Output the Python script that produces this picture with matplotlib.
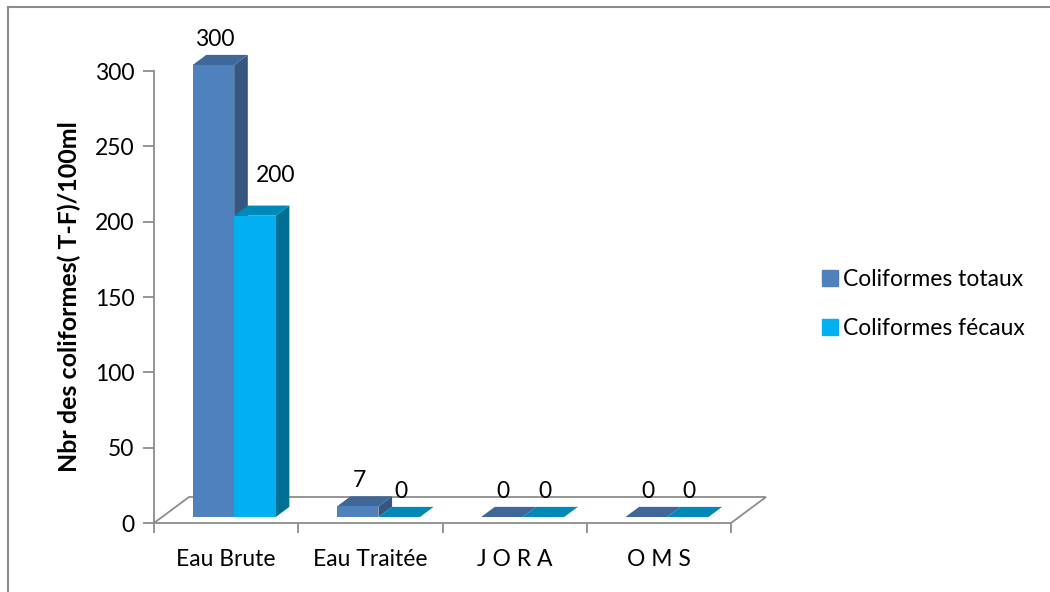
import numpy as np
import matplotlib.pyplot as plt
from matplotlib.patches import Polygon
from matplotlib.lines import Line2D

plt.rcParams['font.family'] = ['Lato', 'DejaVu Sans']

# data
categories = ['Eau Brute', 'Eau Traitée', 'J O R A', 'O M S']
totaux = [300, 7, 0, 0]
fecaux = [200, 0, 0, 0]
series_names = ['Coliformes totaux', 'Coliformes fécaux']
yticks = [0, 50, 100, 150, 200, 250, 300]

# colours: front, top, side
col_tot = ('#4F81BD', '#3F6797', '#36577F')
col_fec = ('#00B0F0', '#0088B8', '#006F94')

FS = 16.5

fig = plt.figure(figsize=(10.5, 5.92), dpi=100)
W, H = 1050, 592
ax = fig.add_axes([154 / W, (H - 523) / H, 577 / W, 452 / H])
ax.set_xlim(-0.5, len(categories) - 0.5)
ax.set_ylim(0, 300)

# pseudo-3D depth of the floor in data units
px_x = 577 / len(categories)      # pixels per category
px_y = 452 / 300                  # pixels per unit
DX = 35 / px_x
DY = 26 / px_y
f0, f1 = 0.23, 0.62               # depth slot taken by the bars
bw = 0.288

# floor
floor = Polygon([(-0.5, 0), (3.5, 0), (3.5 + DX, DY), (-0.5 + DX, DY)],
                closed=True, facecolor='white', edgecolor='#8C8C8C',
                lw=1.3, clip_on=False, zorder=1)
ax.add_patch(floor)


def draw_bar(x0, h, cols):
    ox, oy = f0 * DX, f0 * DY
    dx, dy = (f1 - f0) * DX, (f1 - f0) * DY
    xl, xr = x0 + ox, x0 + bw + ox
    yb, yt = oy, oy + h
    front, top, side = cols
    if h > 0:
        ax.add_patch(Polygon([(xr, yb), (xr + dx, yb + dy), (xr + dx, yt + dy), (xr, yt)],
                             facecolor=side, edgecolor='none', clip_on=False, zorder=2))
    ax.add_patch(Polygon([(xl, yt), (xr, yt), (xr + dx, yt + dy), (xl + dx, yt + dy)],
                         facecolor=top, edgecolor='none', clip_on=False, zorder=2))
    if h > 0:
        ax.add_patch(Polygon([(xl, yb), (xr, yb), (xr, yt), (xl, yt)],
                             facecolor=front, edgecolor='none', clip_on=False, zorder=2))
    return xl + bw / 2, yt


label_shift = {(0, 1): (0.13, 10)}   # "200" label pushed off the tall bar

for i in range(len(categories)):
    for j, (vals, cols) in enumerate([(totaux, col_tot), (fecaux, col_fec)]):
        xc, yt = draw_bar(i - bw + j * bw, vals[i], cols)
        sx, sy = label_shift.get((i, j), (0, 0))
        ax.text(xc + sx + 0.01, yt + 17 + sy, str(vals[i]), ha='center', va='center',
                fontsize=FS, color='black', zorder=5)

# axes styling
for s in ['top', 'right']:
    ax.spines[s].set_visible(False)
ax.spines['left'].set_color('#8C8C8C')
ax.spines['left'].set_linewidth(1.3)
ax.spines['bottom'].set_visible(False)
ax.set_yticks(yticks)
ax.tick_params(axis='y', length=8, width=1.3, color='#8C8C8C', labelsize=FS, pad=6)
ax.set_xticks(range(len(categories)))
ax.set_xticklabels(categories, fontsize=FS)
ax.set_xticks(np.arange(-0.5, len(categories)), minor=True)
ax.tick_params(axis='x', which='major', length=0, pad=19)
ax.tick_params(axis='x', which='minor', length=7, width=1.3, color='#8C8C8C')
ax.set_ylabel('Nbr des coliformes( T-F)/100ml', fontsize=18, fontweight='bold', labelpad=10)
ax.patch.set_visible(False)

# legend
handles = [Line2D([], [], marker='s', ls='none', markersize=11, color=c[0])
           for c in (col_tot, col_fec)]
fig.legend(handles, series_names, loc='center left', bbox_to_anchor=(798 / W, 1 - 304 / H),
           frameon=False, fontsize=FS, handletextpad=0.05, labelspacing=1.2,
           handlelength=1.0)

# outer frame (top and left edges)
fig.add_artist(Line2D([8 / W, 8 / W], [0, 1 - 7 / H], transform=fig.transFigure,
                      color='#8C8C8C', lw=1.5))
fig.add_artist(Line2D([8 / W, 1], [1 - 7 / H, 1 - 7 / H], transform=fig.transFigure,
                      color='#8C8C8C', lw=1.5))

fig.savefig('out.png', dpi=100)
